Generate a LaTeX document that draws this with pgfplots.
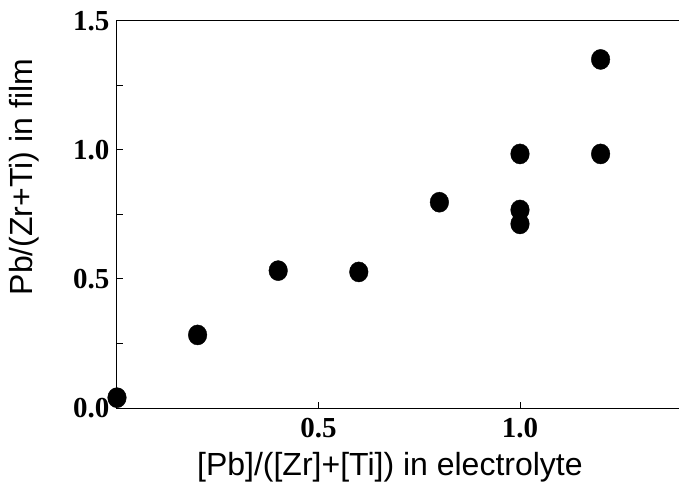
\documentclass[border=0pt]{standalone}
\usepackage{fontspec}
\setmainfont{Liberation Sans}
\newfontfamily\tickserif{Liberation Serif}
\usepackage{pgfplots}
\pgfplotsset{compat=1.18}
\begin{document}
\begin{tikzpicture}
\begin{axis}[
  at={(0pt,0pt)}, anchor=south west,
  scale only axis, width=565pt, height=387.3pt,
  xmin=0, xmax=1.402, ymin=0, ymax=1.5,
  xtick={0.5,1.0}, xticklabels={0.5,1.0},
  ytick={0,0.5,1.0,1.5}, yticklabels={0.0,0.5,1.0,1.5},
  minor ytick={0.25,0.75,1.25},
  tick pos=left, tick align=inside,
  major tick length=6pt, minor tick length=6pt,
  axis line style={line width=1pt},
  every tick/.style={line width=1pt, black},
  ticklabel style={font=\tickserif\bfseries\fontsize{29}{31}\selectfont},
  xticklabel style={yshift=-7pt},
  yticklabel style={xshift=-4pt},
  clip=false,
  xlabel={[Pb]/([Zr]+[Ti]) in electrolyte},
  ylabel={Pb/(Zr+Ti) in film},
  xlabel style={at={(axis description cs:0.483,0)}, anchor=base, yshift=-67pt, font=\fontsize{32}{34}\selectfont},
  ylabel style={at={(axis description cs:0,0.596)}, anchor=base, yshift=84pt, font=\fontsize{32}{34}\selectfont},
]
\addplot[only marks, mark=*, mark size=9.3pt, mark options={fill=black, draw=black, yscale=1.08}] coordinates {
(0,0.04)
(0.2,0.283)
(0.4,0.532)
(0.6,0.527)
(0.8,0.797)
(1.0,0.767)
(1.0,0.713)
(1.0,0.984)
(1.2,0.984)
(1.2,1.35)
};
\end{axis}
\pgfresetboundingbox
\path (-117pt,-79pt) rectangle (562pt,408pt);
\end{tikzpicture}
\end{document}
